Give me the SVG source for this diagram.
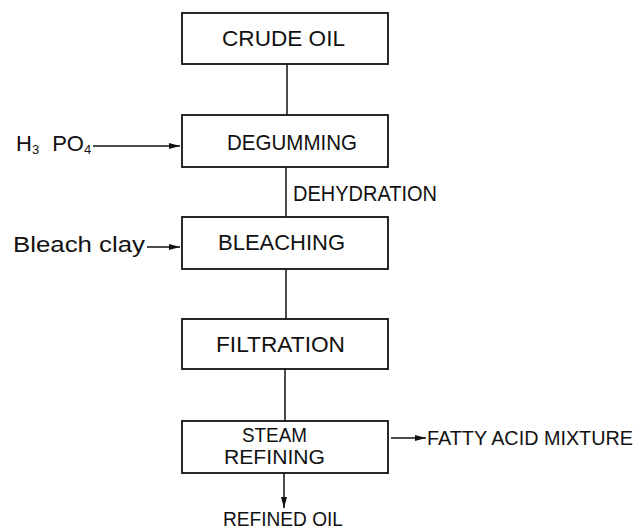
<svg xmlns="http://www.w3.org/2000/svg" width="641" height="530" viewBox="0 0 641 530">
<style>
.box{fill:#fff;stroke:#111;stroke-width:1.8}
.ln{stroke:#111;stroke-width:1.5;fill:none}
.t{font-family:"Liberation Sans",Arial,sans-serif;font-size:22px;fill:#111}
.s{font-size:20px}
.c{text-anchor:middle}
</style>
<defs>
<marker id="ah" markerUnits="userSpaceOnUse" markerWidth="11" markerHeight="7" refX="11" refY="3.5" orient="auto">
<path d="M0,0.5 L11,3.5 L0,6.5 z" fill="#111"/>
</marker>
</defs>
<rect width="641" height="530" fill="#fff"/>
<g id="connectors">
<line class="ln" x1="287" y1="64" x2="287" y2="115"/>
<line class="ln" x1="286" y1="167" x2="286" y2="217"/>
<line class="ln" x1="286" y1="269" x2="286" y2="319"/>
<line class="ln" x1="285" y1="369" x2="285" y2="421"/>
<line class="ln" x1="284" y1="473" x2="284" y2="508" marker-end="url(#ah)"/>
<line class="ln" x1="93" y1="146" x2="180" y2="146" marker-end="url(#ah)"/>
<line class="ln" x1="147" y1="247" x2="180" y2="247" marker-end="url(#ah)"/>
<line class="ln" x1="391" y1="438" x2="426" y2="438" marker-end="url(#ah)"/>
</g>
<g id="crude-oil">
<rect class="box" x="182" y="13" width="206" height="51"/>
<text class="t c" x="283.5" y="46" textLength="123" lengthAdjust="spacingAndGlyphs">CRUDE OIL</text>
</g>
<g id="degumming">
<rect class="box" x="182" y="115" width="206" height="52"/>
<text class="t c" x="292" y="149.5" textLength="130" lengthAdjust="spacingAndGlyphs">DEGUMMING</text>
</g>
<g id="bleaching">
<rect class="box" x="182" y="217" width="206" height="52"/>
<text class="t c" x="281.5" y="250" textLength="127" lengthAdjust="spacingAndGlyphs">BLEACHING</text>
</g>
<g id="filtration">
<rect class="box" x="182" y="319" width="206" height="50"/>
<text class="t c" x="280.5" y="351.5" textLength="129" lengthAdjust="spacingAndGlyphs">FILTRATION</text>
</g>
<g id="steam-refining">
<rect class="box" x="182" y="421" width="206" height="52"/>
<text class="t s c" x="274.5" y="442" textLength="65" lengthAdjust="spacingAndGlyphs">STEAM</text>
<text class="t s c" x="274.5" y="464" textLength="101" lengthAdjust="spacingAndGlyphs">REFINING</text>
</g>
<g id="h3po4">
<text class="t" x="16" y="151">H<tspan font-size="13" dy="3">3</tspan><tspan dy="-3" dx="13">PO</tspan><tspan font-size="13" dy="3">4</tspan></text>
</g>
<g id="bleach-clay">
<text class="t" x="13" y="252" textLength="132" lengthAdjust="spacingAndGlyphs">Bleach clay</text>
</g>
<g id="dehydration">
<text class="t" x="293" y="200.5" textLength="144" lengthAdjust="spacingAndGlyphs">DEHYDRATION</text>
</g>
<g id="fatty-acid">
<text class="t s" x="427" y="445" textLength="206" lengthAdjust="spacingAndGlyphs">FATTY ACID MIXTURE</text>
</g>
<g id="refined-oil">
<text class="t s c" x="283" y="526" textLength="120" lengthAdjust="spacingAndGlyphs">REFINED OIL</text>
</g>
</svg>
